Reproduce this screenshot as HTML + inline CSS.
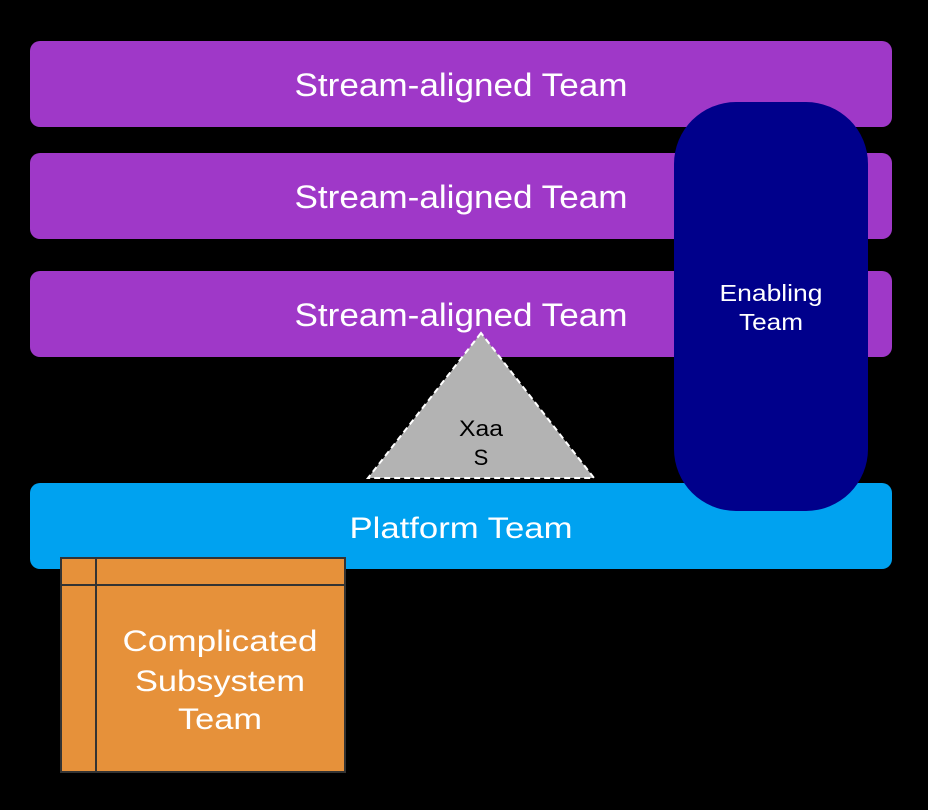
<!DOCTYPE html>
<html><head><meta charset="utf-8"><style>
html,body{margin:0;padding:0;background:#000;}
svg{display:block;font-family:"Liberation Sans","DejaVu Sans",sans-serif;}
</style></head><body>
<svg width="928" height="810" viewBox="0 0 928 810">
<rect width="928" height="810" fill="#000"/>
<rect x="30" y="41" width="862" height="86" rx="10" fill="#9f38c8"/>
<rect x="30" y="153" width="862" height="86" rx="10" fill="#9f38c8"/>
<rect x="30" y="271" width="862" height="86" rx="10" fill="#9f38c8"/>
<g fill="#fff" font-size="32" text-anchor="middle">
<text x="461" y="96" textLength="333" lengthAdjust="spacingAndGlyphs">Stream-aligned Team</text>
<text x="461" y="208" textLength="333" lengthAdjust="spacingAndGlyphs">Stream-aligned Team</text>
<text x="461" y="326" textLength="333" lengthAdjust="spacingAndGlyphs">Stream-aligned Team</text>
</g>
<polygon points="481,333 368,478 594,478" fill="#b3b3b3" stroke="#fff" stroke-width="2" stroke-dasharray="6,4"/>
<text x="481" y="436" font-size="22" text-anchor="middle" fill="#000" textLength="44" lengthAdjust="spacingAndGlyphs">Xaa</text>
<text x="481" y="465" font-size="22" text-anchor="middle" fill="#000">S</text>
<rect x="30" y="483" width="862" height="86" rx="10" fill="#00a2f0"/>
<text x="461" y="538" font-size="30" text-anchor="middle" fill="#fff" textLength="223" lengthAdjust="spacingAndGlyphs">Platform Team</text>
<rect x="674" y="102" width="194" height="409" rx="62" fill="#00008b"/>
<text x="771" y="301" font-size="23" text-anchor="middle" fill="#fff" textLength="103" lengthAdjust="spacingAndGlyphs">Enabling</text>
<text x="771" y="330" font-size="23" text-anchor="middle" fill="#fff" textLength="64" lengthAdjust="spacingAndGlyphs">Team</text>
<rect x="61" y="558" width="284" height="214" fill="#e6913a" stroke="#333" stroke-width="2"/>
<line x1="96" y1="558" x2="96" y2="772" stroke="#333" stroke-width="2"/>
<line x1="61" y1="585" x2="345" y2="585" stroke="#333" stroke-width="2"/>
<g fill="#fff" font-size="30" text-anchor="middle">
<text x="220" y="651" textLength="195" lengthAdjust="spacingAndGlyphs">Complicated</text>
<text x="220" y="691" textLength="170" lengthAdjust="spacingAndGlyphs">Subsystem</text>
<text x="220" y="729" textLength="84" lengthAdjust="spacingAndGlyphs">Team</text>
</g>
</svg>
</body></html>
